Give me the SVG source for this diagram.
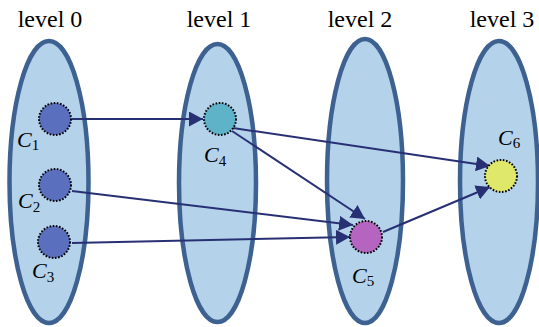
<svg xmlns="http://www.w3.org/2000/svg" width="539" height="327" viewBox="0 0 539 327">
<style>
.lvl{fill:#b4d2ea;stroke:#3d6190;stroke-width:4.5}
text{font-family:'Liberation Serif','Times New Roman',Times,serif}
.t{font-size:24px;fill:#000;text-anchor:middle}
.c{font-size:22px;font-style:italic;fill:#000}
.sub{font-size:15px;font-style:normal}
.n{stroke:#000;stroke-width:2;stroke-dasharray:1.6 1.6}
.e{stroke:#283074;stroke-width:2;fill:none;marker-end:url(#ah)}
</style>
<defs>
<marker id="ah" markerUnits="userSpaceOnUse" viewBox="0 0 14 15" markerWidth="14" markerHeight="15" refX="14" refY="7.5" orient="auto">
<path d="M0,0 L14,7.5 L0,15 z" fill="#283074"/>
</marker>
</defs>
<g id="level0"><ellipse class="lvl" cx="49" cy="182" rx="39.5" ry="141"/><text class="t" x="50" y="27" font-family="Liberation Serif, serif">level 0</text></g>
<g id="level1"><ellipse class="lvl" cx="217.5" cy="183" rx="38.5" ry="139"/><text class="t" x="219" y="27" font-family="Liberation Serif, serif">level 1</text></g>
<g id="level2"><ellipse class="lvl" cx="365" cy="181" rx="38" ry="142"/><text class="t" x="360" y="27" font-family="Liberation Serif, serif">level 2</text></g>
<g id="level3"><ellipse class="lvl" cx="499" cy="182" rx="39" ry="141"/><text class="t" x="502" y="27" font-family="Liberation Serif, serif">level 3</text></g>
<g id="connectors">
<line class="e" x1="72" y1="119" x2="203" y2="119"/>
<line class="e" x1="233" y1="128" x2="490" y2="166"/>
<line class="e" x1="232" y1="131" x2="365" y2="219"/>
<line class="e" x1="72" y1="191" x2="353" y2="225"/>
<line class="e" x1="72" y1="243" x2="350" y2="237"/>
<line class="e" x1="383" y1="232" x2="490" y2="187"/>
</g>
<g id="C1"><circle class="n" cx="55" cy="119" r="16" fill="#5b6fbf"/><text class="c" x="17" y="147">C<tspan class="sub" dy="3">1</tspan></text></g>
<g id="C2"><circle class="n" cx="55" cy="185" r="16" fill="#5b6fbf"/><text class="c" x="18" y="208">C<tspan class="sub" dy="4">2</tspan></text></g>
<g id="C3"><circle class="n" cx="54" cy="242" r="16" fill="#5b6fbf"/><text class="c" x="32" y="278">C<tspan class="sub" dy="4">3</tspan></text></g>
<g id="C4"><circle class="n" cx="220" cy="119" r="16" fill="#5fb3c8"/><text class="c" x="204" y="162">C<tspan class="sub" dy="4">4</tspan></text></g>
<g id="C5"><circle class="n" cx="366" cy="237" r="16" fill="#b565c0"/><text class="c" x="352" y="283">C<tspan class="sub" dy="3">5</tspan></text></g>
<g id="C6"><circle class="n" cx="501" cy="176" r="16" fill="#e0e86a"/><text class="c" x="498" y="145">C<tspan class="sub" dy="3">6</tspan></text></g>
</svg>
